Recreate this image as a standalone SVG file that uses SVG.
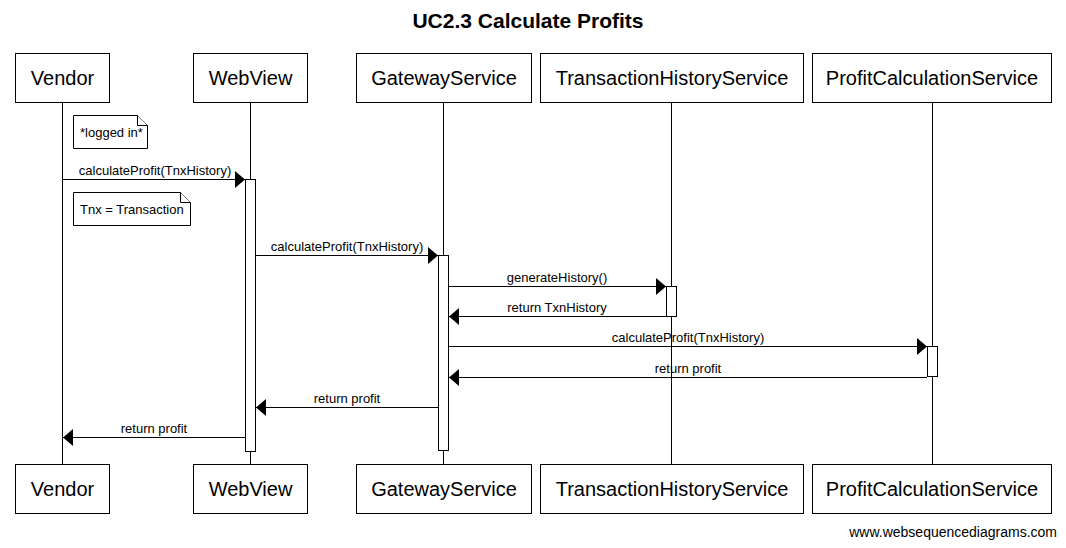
<svg xmlns="http://www.w3.org/2000/svg" width="1066" height="548" viewBox="0 0 1066 548">
<style>
.box{fill:#fff;stroke:#000;stroke-width:1}
.ll{stroke:#000;stroke-width:1}
.act{fill:#fff;stroke:#000;stroke-width:1}
.msg{stroke:#000;stroke-width:1;fill:none}
.pt{font-family:"Liberation Sans",Arial,sans-serif;font-size:20px;text-anchor:middle}
.lbl{font-family:"Liberation Sans",Arial,sans-serif;font-size:13px;text-anchor:middle}
.nt{font-family:"Liberation Sans",Arial,sans-serif;font-size:13px}
.note{fill:#fff;stroke:#000;stroke-width:1}
</style>
<defs>
<marker id="ah" viewBox="0 0 10 17" refX="10" refY="8.5" markerWidth="10" markerHeight="17" markerUnits="userSpaceOnUse" orient="auto">
<path d="M0,0 L10,8.5 L0,17 Z" fill="#000"/>
</marker>
</defs>
<rect width="1066" height="548" fill="#fff"/>
<text x="528" y="28" font-family="'Liberation Sans',Arial,sans-serif" font-size="21" font-weight="bold" text-anchor="middle">UC2.3 Calculate Profits</text>
<g id="lifelines">
<line class="ll" x1="62.5" y1="102" x2="62.5" y2="464"/>
<line class="ll" x1="250.5" y1="102" x2="250.5" y2="464"/>
<line class="ll" x1="443.5" y1="102" x2="443.5" y2="464"/>
<line class="ll" x1="671.5" y1="102" x2="671.5" y2="464"/>
<line class="ll" x1="932.5" y1="102" x2="932.5" y2="464"/>
</g>
<g id="Vendor">
<rect class="box" x="15.5" y="53.5" width="94" height="49"/>
<text class="pt" x="62.5" y="85">Vendor</text>
<rect class="box" x="15.5" y="464.5" width="94" height="49"/>
<text class="pt" x="62.5" y="496">Vendor</text>
</g>
<g id="WebView">
<rect class="box" x="193.5" y="53.5" width="114" height="49"/>
<text class="pt" x="250.5" y="85">WebView</text>
<rect class="box" x="193.5" y="464.5" width="114" height="49"/>
<text class="pt" x="250.5" y="496">WebView</text>
<rect class="act" x="245.5" y="179.5" width="10" height="272"/>
</g>
<g id="GatewayService">
<rect class="box" x="356.5" y="53.5" width="175" height="49"/>
<text class="pt" x="444" y="85">GatewayService</text>
<rect class="box" x="356.5" y="464.5" width="175" height="49"/>
<text class="pt" x="444" y="496">GatewayService</text>
<rect class="act" x="438.5" y="255.5" width="10" height="195"/>
</g>
<g id="TransactionHistoryService">
<rect class="box" x="540.5" y="53.5" width="263" height="49"/>
<text class="pt" x="672" y="85">TransactionHistoryService</text>
<rect class="box" x="540.5" y="464.5" width="263" height="49"/>
<text class="pt" x="672" y="496">TransactionHistoryService</text>
<rect class="act" x="666.5" y="286.5" width="10" height="30"/>
</g>
<g id="ProfitCalculationService">
<rect class="box" x="812.5" y="53.5" width="239" height="49"/>
<text class="pt" x="932" y="85">ProfitCalculationService</text>
<rect class="box" x="812.5" y="464.5" width="239" height="49"/>
<text class="pt" x="932" y="496">ProfitCalculationService</text>
<rect class="act" x="927.5" y="346.5" width="10" height="30"/>
</g>
<g id="note1">
<path class="note" d="M73.5,115.5 H137.5 L147.5,125.5 V148.5 H73.5 Z"/>
<path class="note" d="M137.5,115.5 V125.5 H147.5"/>
<text class="nt" x="80" y="137">*logged in*</text>
</g>
<g id="note2">
<path class="note" d="M73.5,192.5 H180.5 L190.5,202.5 V225.5 H73.5 Z"/>
<path class="note" d="M180.5,192.5 V202.5 H190.5"/>
<text class="nt" x="80" y="214">Tnx = Transaction</text>
</g>
<g id="connectors">
<line class="msg" x1="62" y1="179.5" x2="245" y2="179.5" marker-end="url(#ah)"/>
<text class="lbl" x="155" y="175">calculateProfit(TnxHistory)</text>
<line class="msg" x1="255" y1="255.5" x2="438" y2="255.5" marker-end="url(#ah)"/>
<text class="lbl" x="347" y="251">calculateProfit(TnxHistory)</text>
<line class="msg" x1="448" y1="286.5" x2="666" y2="286.5" marker-end="url(#ah)"/>
<text class="lbl" x="557" y="282">generateHistory()</text>
<line class="msg" x1="666" y1="316.5" x2="449" y2="316.5" marker-end="url(#ah)"/>
<text class="lbl" x="557" y="312">return TxnHistory</text>
<line class="msg" x1="448" y1="346.5" x2="927" y2="346.5" marker-end="url(#ah)"/>
<text class="lbl" x="688" y="342">calculateProfit(TnxHistory)</text>
<line class="msg" x1="927" y1="377.5" x2="449" y2="377.5" marker-end="url(#ah)"/>
<text class="lbl" x="688" y="373">return profit</text>
<line class="msg" x1="438" y1="407.5" x2="256" y2="407.5" marker-end="url(#ah)"/>
<text class="lbl" x="347" y="403">return profit</text>
<line class="msg" x1="245" y1="437.5" x2="63" y2="437.5" marker-end="url(#ah)"/>
<text class="lbl" x="154" y="433">return profit</text>
</g>
<text x="1057" y="537" font-family="'Liberation Sans',Arial,sans-serif" font-size="14" text-anchor="end">www.websequencediagrams.com</text>
</svg>
